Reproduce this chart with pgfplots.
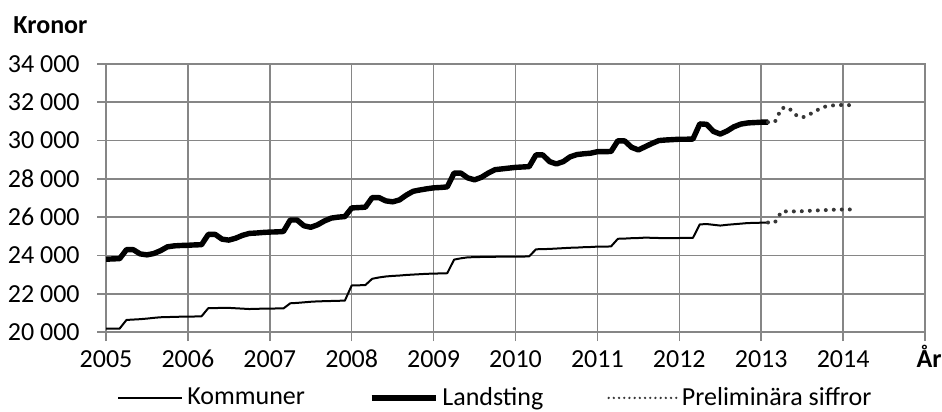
\documentclass[border=0pt]{standalone}
\usepackage{fontspec}
\setmainfont{Carlito}
\usepackage{pgfplots}
\usepackage{pgfplotstable}
\pgfplotsset{compat=1.18}
\definecolor{gridgray}{RGB}{134,134,134}
\definecolor{prelimgray}{RGB}{55,55,55}

% Monthly values Jan 2005 - Feb 2013
\pgfplotstableread{
k l
20170 23800
20170 23820
20180 23830
20630 24300
20650 24300
20670 24080
20700 24030
20740 24100
20770 24250
20780 24450
20790 24500
20800 24520
20800 24530
20810 24550
20820 24560
21250 25100
21250 25100
21260 24850
21260 24800
21240 24900
21220 25050
21200 25150
21210 25170
21220 25200
21220 25220
21230 25230
21230 25250
21500 25850
21520 25850
21550 25550
21580 25470
21600 25600
21610 25800
21620 25950
21630 26000
21640 26030
22430 26480
22440 26500
22450 26520
22780 27020
22850 27020
22900 26850
22930 26800
22950 26900
22980 27150
23000 27350
23020 27420
23040 27480
23050 27530
23060 27550
23070 27580
23780 28300
23850 28300
23900 28050
23910 27950
23920 28080
23930 28300
23930 28480
23940 28520
23940 28560
23940 28600
23940 28620
23950 28640
24320 29250
24330 29250
24340 28900
24360 28780
24380 28900
24400 29150
24410 29270
24430 29310
24440 29340
24460 29420
24460 29420
24470 29430
24870 29990
24880 29980
24900 29650
24910 29510
24930 29680
24920 29850
24910 30000
24910 30030
24910 30050
24910 30070
24920 30070
24920 30080
25620 30870
25640 30850
25600 30480
25560 30340
25600 30500
25630 30720
25660 30860
25690 30920
25700 30940
25710 30960
25720 30960
}\mainData

% Preliminary values Feb 2013 - Mar 2014
\pgfplotstableread{
k l
25720 30960
25720 30970
26300 31700
26300 31720
26300 31350
26310 31200
26330 31350
26350 31550
26360 31740
26380 31820
26390 31850
26400 31860
26400 31850
26400 31830
}\prelData

\begin{document}
\begin{tikzpicture}
\path[use as bounding box] (-53pt,-40pt) rectangle (418pt,166pt);
\begin{axis}[
  name=ax,
  at={(0pt,0pt)}, anchor=south west,
  scale only axis,
  width=409.5pt, height=134pt,
  xmin=2005, xmax=2015,
  ymin=20000, ymax=34000,
  xtick={2005,2006,...,2015},
  xticklabels={2005,2006,2007,2008,2009,2010,2011,2012,2013,2014,{}},
  ytick={20000,22000,...,34000},
  scaled y ticks=false,
  /pgf/number format/assume math mode=true,
  yticklabel style={/pgf/number format/1000 sep={\ }, anchor=east, inner sep=0pt, xshift=-8.5pt},
  xticklabel style={anchor=base, inner sep=0pt, yshift=-13pt},
  font=\fontsize{13}{15.6}\selectfont,
  grid=major,
  grid style={gridgray, line width=0.8pt},
  axis line style={gridgray, line width=0.8pt},
  tick style={gridgray, line width=0.8pt},
  major tick length=4.5pt,
  tick align=outside,
  tick pos=left,
  legend style={at={(rel axis cs:0.0134,-0.246)}, anchor=west, draw=none, fill=none,
    inner sep=0pt, legend columns=3,
    font=\fontsize{13}{15.6}\selectfont,
    /tikz/every even column/.append style={column sep=30pt}},
  legend cell align=left,
]
\addplot[black, line width=1pt, line join=round,
  legend image code/.code={\draw[black, line width=1pt] (0pt,0pt) -- (32pt,0pt);}]
  table[x expr={2005+\coordindex/12}, y=k] {\mainData};
\addlegendentry{Kommuner}
\addplot[black, line width=2.7pt, line join=round,
  legend image code/.code={\draw[black, line width=2.7pt] (0pt,0pt) -- (32pt,0pt);}]
  table[x expr={2005+\coordindex/12}, y=l] {\mainData};
\addlegendentry{Landsting}
\addplot[prelimgray, line width=2pt, line cap=round, dash pattern=on 0pt off 4pt,
  legend image code/.code={\draw[prelimgray, line width=1.3pt, line cap=round, dash pattern=on 0pt off 2.6pt] (0pt,0pt) -- (34pt,0pt);}]
  table[x expr={2013+(\coordindex+1)/12}, y=k] {\prelData};
\addlegendentry{Preliminära siffror}
\addplot[prelimgray, line width=2pt, line cap=round, dash pattern=on 0pt off 4pt, forget plot]
  table[x expr={2013+(\coordindex+1)/12}, y=l] {\prelData};
\end{axis}
\node[anchor=base west, inner sep=0pt, font=\fontsize{13}{15.6}\selectfont\bfseries]
  at ([xshift=-46.5pt,yshift=15pt]ax.north west) {Kronor};
\node[anchor=base, inner sep=0pt, font=\fontsize{13}{15.6}\selectfont\bfseries]
  at ([xshift=2pt,yshift=-17.5pt]ax.south east) {År};
\end{tikzpicture}
\end{document}
